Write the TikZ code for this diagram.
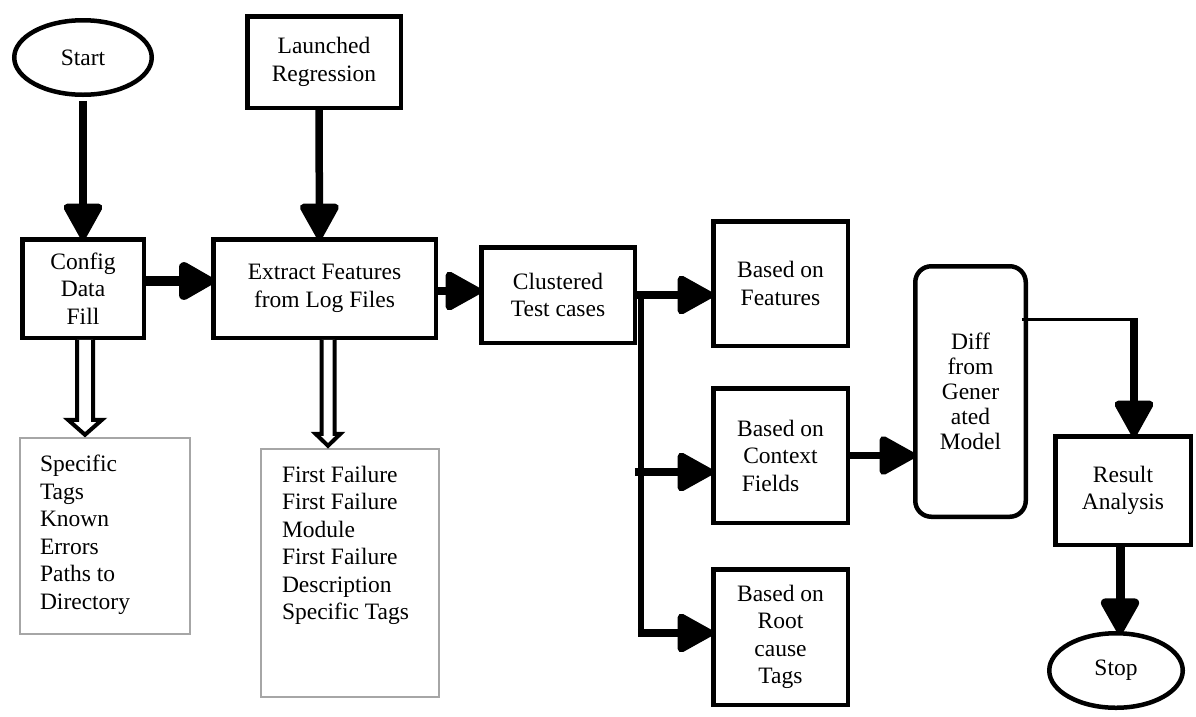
\documentclass[tikz,border=0pt]{standalone}
\usepackage{fontspec}
\setmainfont{Liberation Serif}
\usetikzlibrary{arrows.meta,shapes.geometric}
\begin{document}
\begin{tikzpicture}[x=1pt,y=-1pt,
  every node/.style={font=\fontsize{23.5}{27.5}\selectfont, inner sep=0pt, outer sep=0pt},
  box/.style={draw, line width=4.5pt, align=center},
  oval/.style={draw, ellipse, line width=4.5pt},
  listbox/.style={draw=black!35, line width=2pt},
  listtext/.style={align=left, anchor=north west},
  flow/.style={line width=7.5pt, -{Triangle[length=40pt,width=42pt,round]}},
  hollow/.style={draw, fill=white, line width=4pt, line join=miter},
]
\useasboundingbox (0,0) rectangle (1196,716);

% process steps
\node[oval, minimum width=137.5pt, minimum height=74.5pt] (start) at (83,57.5) {Start};
\node[box, minimum width=153.5pt, minimum height=91.5pt] (launched) at (324,62) {Launched\\Regression};
\node[box, minimum width=121.5pt, minimum height=98.5pt] (config) at (83,288.5) {Config\\Data\\Fill};
\node[box, minimum width=222.5pt, minimum height=98.5pt] (extract) at (324.5,288.5) {Extract Features\\from Log Files};
\node[box, minimum width=153.5pt, minimum height=95.5pt] (clustered) at (558,295) {Clustered\\Test cases};
\node[box, minimum width=134.5pt, minimum height=124.5pt] (features) at (780.5,283.5) {Based on\\Features};
\node[box, minimum width=134.5pt, minimum height=134.5pt] (context) at (780.5,455.5) {Based on\\Context\\Fields\hspace*{20pt}};
\node[box, minimum width=134.5pt, minimum height=135.5pt] (root) at (780.5,637) {Based on\\Root\\cause\\Tags};
\node[box, rounded corners=16pt, minimum width=110.5pt, minimum height=250.5pt,
      font=\fontsize{23.5}{25}\selectfont] (diff) at (970.5,391.5) {Diff\\from\\Gener\\ated\\Model};
\node[box, minimum width=135.5pt, minimum height=108.5pt] (result) at (1123,490.5) {Result\\Analysis};
\node[oval, minimum width=133.5pt, minimum height=74.5pt] (stop) at (1116,670.5) {Stop};

% extracted data lists
\node[listbox, minimum width=170pt, minimum height=196pt] (tags) at (105,536) {};
\node[listbox, minimum width=178pt, minimum height=248pt] (failure) at (350,573) {};
\node[listtext] (tagstext) at ([xshift=20pt,yshift=-17pt]tags.north west)
  {Specific\\Tags\\Known\\Errors\\Paths to\\Directory};
\node[listtext] (failtext) at ([xshift=21pt,yshift=-17pt]failure.north west)
  {First Failure\\First Failure\\Module\\First Failure\\Description\\Specific Tags};

% main flow
\draw[flow] ([yshift=-6pt]start.south) -- (config.north);
\draw[flow] ([xshift=-5pt]launched.south) -- ([xshift=-5pt]extract.north);
\draw[flow, line width=10pt] ([yshift=7.5pt]config.east) -- ([yshift=7.5pt]extract.west);
\coordinate (ec) at ([yshift=-2.5pt]extract.east);
\draw[flow] (ec) -- (ec -| clustered.west);
\draw[flow] (clustered.east) -- (clustered.east -| features.west);

% branches to the three clusterings
\coordinate (trunk) at ([xshift=6pt]clustered.east);
\coordinate (ctxin) at ([yshift=-16.5pt]context.west);
\coordinate (rootin) at ([yshift=4pt]root.west);
\coordinate (ctxfrom) at (trunk |- ctxin);
\coordinate (trunkend) at (trunk |- rootin);
\draw[line width=5.5pt] ([yshift=3.5pt]trunk) -- ([yshift=-2.5pt]trunkend);
\draw[flow] ([xshift=-6pt]ctxfrom) -- (ctxin);
\draw[flow] ([xshift=-3pt]trunkend) -- (rootin);

\draw[flow] (context.east) -- (context.east -| diff.west);

% model diff to analysis
\coordinate (turn) at (1134,319.5);
\coordinate (dout) at (diff.east |- turn);
\draw[line width=3.5pt] ([xshift=-4pt]dout) -- ([xshift=3.5pt]turn);
\draw[flow] ([yshift=1.75pt]turn) -- (turn |- result.north);
\coordinate (rs) at ([xshift=-3pt]result.south);
\draw[flow, line width=9pt] (rs) -- (rs |- stop.north);

% hollow arrows to the data lists
\coordinate (h1) at ([xshift=2pt,yshift=-2pt]config.south);
\draw[hollow] (h1) ++(-8,0) -- ++(0,80) -- ++(-9,0) -- ++(17,15) -- ++(17,-15) -- ++(-9,0) -- ++(0,-80);
\coordinate (h2) at ([xshift=3.5pt,yshift=-2pt]extract.south);
\draw[hollow] (h2) ++(-6.5,0) -- ++(0,94) -- ++(-6,0) -- ++(12.5,12) -- ++(12.5,-12) -- ++(-6,0) -- ++(0,-94);
\end{tikzpicture}
\end{document}
